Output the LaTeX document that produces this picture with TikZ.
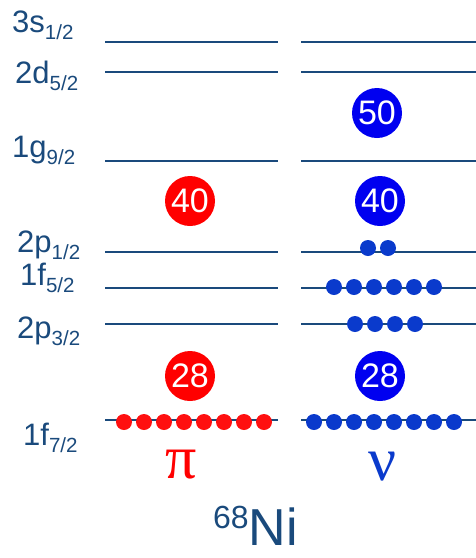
\documentclass[tikz,border=0pt]{standalone}
\usepackage{fontspec}
\setmainfont{Liberation Sans}
\newfontfamily\greekfont{Liberation Serif}
\definecolor{lvl}{HTML}{1A4A7C}
\definecolor{pdot}{HTML}{FF1010}
\definecolor{ndot}{HTML}{0A3ACC}
\definecolor{pmagic}{HTML}{FF0000}
\definecolor{nmagic}{HTML}{0000F0}
\newcommand{\lsub}[1]{\raisebox{-7pt}{\fontsize{20.5}{20.5}\selectfont #1}}
\begin{document}
\begin{tikzpicture}[x=1pt,y=-1pt,
 level/.style={draw=lvl,line width=2.7pt},
 lab/.style={anchor=base west,inner sep=0pt,text=lvl,font=\fontsize{31}{31}\selectfont},
 magic/.style={circle,inner sep=0pt,minimum size=50pt,text=white,font=\fontsize{34}{34}\selectfont}]
 \useasboundingbox (0,0) rectangle (476,558);
 % levels: proton side and neutron side
 \foreach \nm/\y in {s/42,d/72,g/161,pa/252,f/288,pb/324,fs/420}{
  \coordinate (p\nm L) at (105,\y); \coordinate (p\nm R) at (278,\y);
  \coordinate (n\nm L) at (301,\y); \coordinate (n\nm R) at (476,\y);
  \draw[level] (p\nm L)--(p\nm R);
  \draw[level] (n\nm L)--(n\nm R);
 }
 \node[lab] (l3s) at (12,32) {3s\lsub{1/2}};
 \node[lab] (l2d) at (15,83) {2d\lsub{5/2}};
 \node[lab] (l1g) at (12,157) {1g\lsub{9/2}};
 \node[lab] (l2pa) at (17,252) {2p\lsub{1/2}};
 \node[lab] (l1f) at (20,285) {1f\lsub{5/2}};
 \node[lab] (l2pb) at (17,338) {2p\lsub{3/2}};
 \node[lab] (l1fs) at (23,445) {1f\lsub{7/2}};
 % magic numbers
 \node[magic,fill=pmagic] (p40) at (190,201) {40};
 \node[magic,fill=pmagic] (p28) at (190,376) {28};
 \node[magic,fill=nmagic] (n50) at (377,113) {50};
 \node[magic,fill=nmagic] (n40) at (380,201) {40};
 \node[magic,fill=nmagic] (n28) at (380,376) {28};
 % occupancies
 \foreach \i in {0,...,7} \fill[pdot] (124+20*\i,422) circle (8pt);
 \foreach \i in {0,...,7} \fill[ndot] (314+20*\i,422) circle (8pt);
 \foreach \i in {0,...,3} \fill[ndot] (355+20*\i,324) circle (8pt);
 \foreach \i in {0,...,5} \fill[ndot] (334+20*\i,287) circle (8pt);
 \foreach \i in {0,1} \fill[ndot] (368+20*\i,248) circle (8pt);
 \node[anchor=base,inner sep=0pt,text=pmagic,font=\greekfont\fontsize{62}{62}\selectfont] (pi) at (181,478) {π};
 \node[anchor=base,inner sep=0pt,text=ndot,font=\greekfont\fontsize{62}{62}\selectfont] (nu) at (383,480) {ν};
 \node[anchor=base west,inner sep=0pt,text=lvl,font=\fontsize{52}{52}\selectfont] (ni) at (213,545) {\raisebox{17pt}{\fontsize{32}{32}\selectfont 68}Ni};
\end{tikzpicture}
\end{document}
